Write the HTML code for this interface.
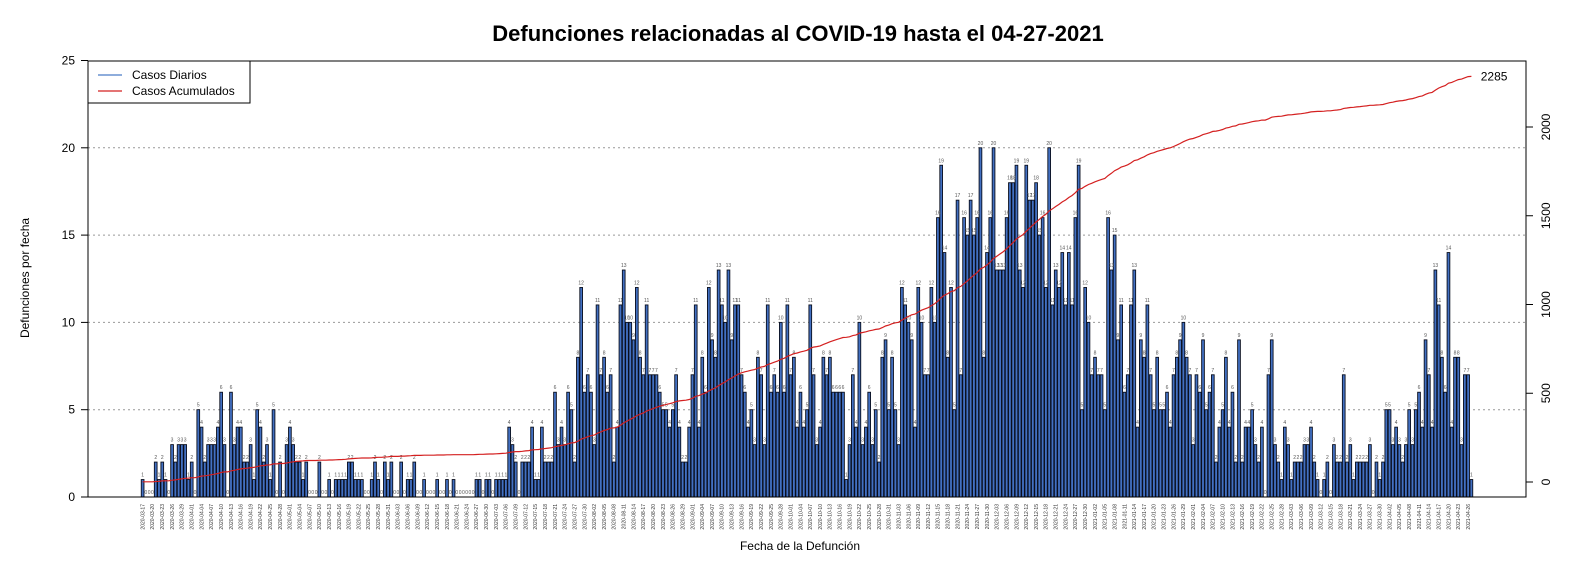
<!DOCTYPE html>
<html><head><meta charset="utf-8"><style>
html,body{margin:0;padding:0;background:#fff;}
svg{display:block;font-family:"Liberation Sans",Arial,sans-serif;}
</style></head><body>
<svg id="chart" width="1584" height="576" viewBox="0 0 1584 576" xmlns="http://www.w3.org/2000/svg">
<text x="798" y="41" text-anchor="middle" font-size="22" font-weight="bold">Defunciones relacionadas al COVID-19 hasta el 04-27-2021</text>
<g id="grid"></g>
<g id="bars"></g>
<g id="vlabels"></g>
<g id="axes"></g>
<g id="xlabels"></g>
<polyline id="cumline" fill="none" stroke="#d42020" stroke-width="1.2"/>
<text x="800" y="550" text-anchor="middle" font-size="12">Fecha de la Defunción</text>
<text transform="translate(29,278) rotate(-90)" text-anchor="middle" font-size="12">Defunciones por fecha</text>
<g>
<rect x="88" y="61" width="162" height="42" fill="#fff" stroke="#000" stroke-width="1"/>
<line x1="98" y1="75" x2="122" y2="75" stroke="#4a7cc8" stroke-width="1.2"/>
<text x="132" y="79" font-size="12">Casos Diarios</text>
<line x1="98" y1="91" x2="122" y2="91" stroke="#d42020" stroke-width="1.2"/>
<text x="132" y="95" font-size="12">Casos Acumulados</text>
</g>
</svg>
<script>
const startDate = "2020-03-17";
const dailyDeaths = [
1,0,0,0,2,1,2,1,0,3,2,3,3,3,1,2,0,5,4,2,3,3,3,4,6,3,0,6,3,4,4,2,2,3,1,5,4,2,3,1,5,0,2,0,3,4,3,2,2,1,2,0,0,0,2,0,0,1,0,1,1,1,1,2,2,
1,1,1,0,0,1,2,1,0,2,1,2,0,0,2,0,1,1,2,0,0,1,0,0,0,1,0,0,1,0,1,0,0,0,0,0,0,1,1,0,1,1,0,1,1,1,1,4,3,2,0,2,2,2,4,1,1,4,2,2,2,6,3,4,3,6,5,2,8,
12,6,7,6,3,11,7,8,6,7,2,4,11,13,10,10,9,12,8,7,11,7,7,7,6,5,5,4,5,7,4,2,2,4,7,11,4,8,6,12,9,8,13,11,10,13,9,11,11,7,6,4,5,3,8,7,3,11,6,7,6,10,6,11,7,8,4,
6,4,5,11,7,3,4,8,7,8,6,6,6,6,1,3,7,4,10,3,4,6,3,5,2,8,9,5,8,5,3,12,11,10,9,4,12,10,
7,7,12,10,16,19,14,8,12,5,17,7,16,15,17,15,16,20,8,14,16,20,13,13,13,16,18,18,19,13,12,19,17,17,18,15,16,12,20,11,13,12,14,11,14,11,16,19,5,12,10,7,8,7,7,5,16,13,
15,9,11,6,7,11,13,4,9,8,11,7,5,8,5,5,6,4,7,8,9,10,8,7,3,7,6,9,5,6,7,2,4,5,8,4,6,2,9,2,4,4,5,3,2,4,0,7,9,3,2,1,4,3,1,
2,2,2,3,3,4,2,1,0,1,2,0,3,2,2,7,2,3,1,2,2,2,2,3,0,2,1,2,5,5,3,4,3,2,3,5,3,5,6,4,9,7,4,13,11,8,6,14,4,8,8,3,7,7,1
];
const leftTicks = [0,5,10,15,20,25];
const rightTicks = [0,500,1000,1500,2000];

const NS = "http://www.w3.org/2000/svg";
const X0 = 88, X1 = 1526, Ybase = 497, Ytop = 61;
const n = dailyDeaths.length;
const uLo = 0.2 - 0.04*(1.2*n-0.2), uHi = 1.2*n + 0.04*(1.2*n-0.2);
const sx = (X1-X0)/(uHi-uLo);
function xBarLeft(i){ return X0 + (0.2 + 1.2*i - uLo)*sx; }
const barW = sx;
function yL(v){ return Ybase - v*17.46; }
function yR(v){ return 482 - v*0.1775; }
function mk(tag, attrs, parent){ const e=document.createElementNS(NS,tag); for(const k in attrs) e.setAttribute(k,attrs[k]); parent.appendChild(e); return e; }

const grid=document.getElementById('grid');
for(const t of leftTicks){ if(t===0||t===25) continue;
  const l=mk('line',{x1:X0,x2:X1,y1:yL(t),y2:yL(t),stroke:'#999','stroke-dasharray':'2,3','stroke-width':1},grid);
  
  
}
const bars=document.getElementById('bars'), vl=document.getElementById('vlabels');
dailyDeaths.forEach((v,i)=>{
  const x=xBarLeft(i);
  const r=mk('rect',{x:x,y:yL(v),width:barW,height:Ybase-yL(v),fill:'#4270c2',stroke:'#0a0f1e','stroke-width':0.9},bars);
  
  
  const t=mk('text',{x:x+barW/2,y:yL(v)-3,'font-size':5,'text-anchor':'middle',fill:'#555'},vl);
  
  
  t.textContent=v;
});
let c=0; const pts=[];
dailyDeaths.forEach((v,i)=>{ c+=v; pts.push((xBarLeft(i)+barW/2).toFixed(1)+','+yR(c).toFixed(1)); });
document.getElementById('cumline').setAttribute('points',pts.join(' '));
const svg=document.getElementById('chart');
const endLbl=mk('text',{x:xBarLeft(n-1)+barW+8,y:yR(c)+4,'font-size':12},svg);


endLbl.textContent=c;

const ax=document.getElementById('axes');
mk('rect',{x:X0,y:Ytop,width:X1-X0,height:Ybase-Ytop,fill:'none',stroke:'#000','stroke-width':1},ax);
for(const t of leftTicks){
  mk('line',{x1:X0-7,x2:X0,y1:yL(t),y2:yL(t),stroke:'#000'},ax);
  const tx=mk('text',{x:X0-13,y:yL(t)+4,'font-size':12,'text-anchor':'end'},ax);
  
  
  tx.textContent=t;
}
for(const t of rightTicks){
  mk('line',{x1:X1,x2:X1+7,y1:yR(t),y2:yR(t),stroke:'#000'},ax);
  const tx=mk('text',{'font-size':12,'text-anchor':'middle',transform:'translate('+(X1+24)+','+yR(t)+') rotate(-90)'},ax);
  
  
  tx.textContent=t;
}
const xl=document.getElementById('xlabels');
const d0=new Date(startDate+'T00:00:00Z');
for(let i=0;i<n;i+=3){
  const d=new Date(d0.getTime()+i*86400000);
  const s=d.toISOString().slice(0,10);
  const cx=xBarLeft(i)+barW/2;
  const tx=mk('text',{'font-size':5,'text-anchor':'end',fill:'#333',transform:'translate('+(cx+1.8)+',504) rotate(-90)'},xl);
  
  
  tx.textContent=s;
}
</script>
</body></html>
